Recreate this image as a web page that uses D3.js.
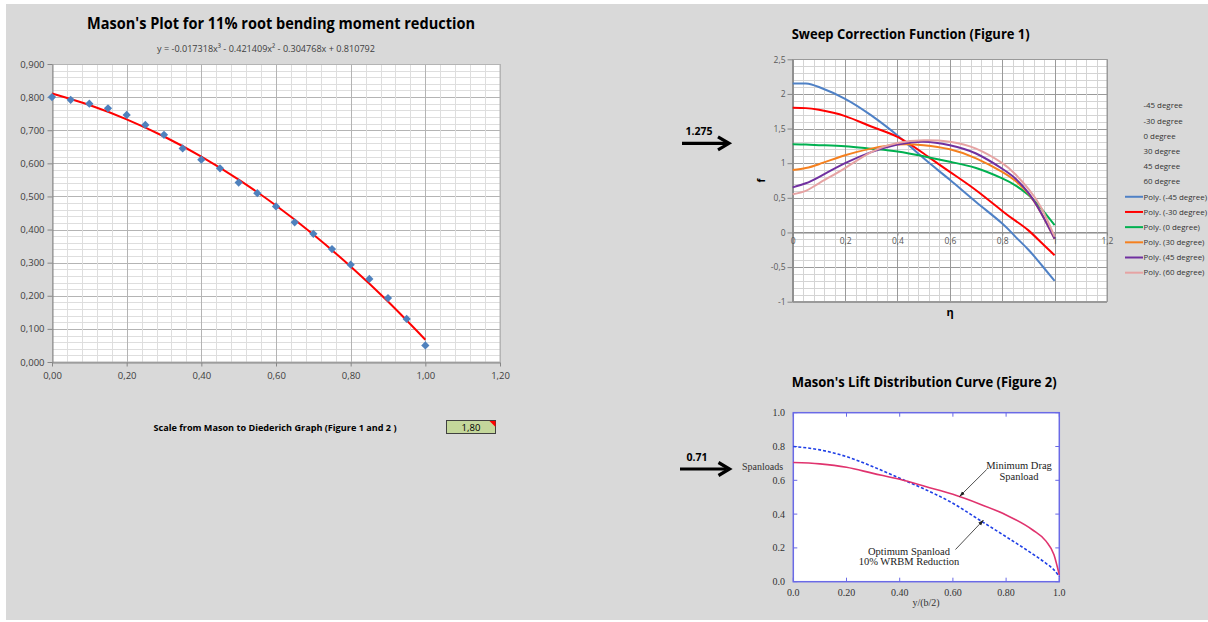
<!DOCTYPE html>
<html>
<head>
<meta charset="utf-8">
<script src="https://cdn.jsdelivr.net/npm/d3@7"></script>
<style>
  body { margin: 0; background: #ffffff; }
  svg { display: block; font-family: 'Open Sans', sans-serif; }
</style>
</head>
<body>
<svg id="chart" width="1208" height="622"></svg>
<script>
// ---- Mason's plot (left) ----
const masonX = [0, 0.05, 0.1, 0.15, 0.2, 0.25, 0.3, 0.35, 0.4, 0.45, 0.5, 0.55, 0.6, 0.65, 0.7, 0.75, 0.8, 0.85, 0.9, 0.95, 1.0]
const masonY = [0.800, 0.792, 0.780, 0.766, 0.746, 0.716, 0.686, 0.645, 0.611, 0.585, 0.542, 0.510, 0.470, 0.422, 0.387, 0.341, 0.294, 0.251, 0.193, 0.130, 0.050]
// trendline values
const trendX = [0, 0.1, 0.2, 0.3, 0.4, 0.5, 0.6, 0.7, 0.8, 0.9, 1.0]
const trendY = [0.8108, 0.7761, 0.7328, 0.6810, 0.6204, 0.5509, 0.4725, 0.3850, 0.2884, 0.1825, 0.0673]
const masonXTicks = [0, 0.2, 0.4, 0.6, 0.8, 1.0, 1.2]
const masonYTicks = [0, 0.1, 0.2, 0.3, 0.4, 0.5, 0.6, 0.7, 0.8, 0.9]

// ---- Sweep correction function (figure 1) ----
const sweepEta = [0, 0.05, 0.1, 0.2, 0.3, 0.4, 0.5, 0.6, 0.7, 0.8, 0.85, 0.9, 0.95, 1.0]
const sweepNames = ['-45 degree', '-30 degree', '0 degree', '30 degree', '45 degree', '60 degree']
const sweepM45 = [2.15, 2.15, 2.10, 1.93, 1.69, 1.40, 1.07, 0.76, 0.44, 0.13, -0.06, -0.25, -0.47, -0.70]
const sweepM30 = [1.80, 1.795, 1.77, 1.68, 1.53, 1.38, 1.14, 0.875, 0.61, 0.31, 0.17, 0.03, -0.15, -0.33]
const sweep0 = [1.275, 1.27, 1.26, 1.245, 1.21, 1.17, 1.10, 1.02, 0.93, 0.78, 0.68, 0.54, 0.34, 0.105]
const sweep30 = [0.90, 0.93, 0.985, 1.115, 1.21, 1.27, 1.26, 1.20, 1.07, 0.875, 0.745, 0.56, 0.27, -0.09]
const sweep45 = [0.65, 0.71, 0.80, 1.00, 1.16, 1.27, 1.31, 1.26, 1.14, 0.92, 0.78, 0.57, 0.27, -0.09]
const sweep60 = [0.55, 0.60, 0.71, 0.93, 1.16, 1.29, 1.33, 1.31, 1.21, 1.00, 0.84, 0.63, 0.35, -0.06]
const sweepColors = ['#4f81c6', '#ff0000', '#00b050', '#f5801f', '#7030a0', '#e6a3a3']
const sweepXTicks = [0, 0.2, 0.4, 0.6, 0.8, 1, 1.2]
const sweepYTicks = [-1, -0.5, 0, 0.5, 1, 1.5, 2, 2.5]

// ---- Mason's lift distribution (figure 2) ----
const spanX = [0, 0.1, 0.2, 0.3, 0.4, 0.5, 0.6, 0.7, 0.8, 0.9, 0.95, 0.98, 1.0]
const minDragLoad = [0.705, 0.697, 0.677, 0.641, 0.606, 0.562, 0.517, 0.460, 0.395, 0.306, 0.240, 0.160, 0.040]
const optimumLoad = [0.800, 0.780, 0.740, 0.680, 0.612, 0.543, 0.464, 0.365, 0.266, 0.164, 0.109, 0.070, 0.030]
const spanXTicks = ['0.0', '0.20', '0.40', '0.60', '0.80', '1.0']
const spanYTicks = ['0.0', '0.2', '0.4', '0.6', '0.8', '1.0']

const scaleValue = '1,80'

const svg = d3.select('#chart')
const comma = f => d => d3.format(f)(d).replace('.', ',')

svg.append('rect').attr('width', 1208).attr('height', 622).attr('fill', '#ffffff')
svg.append('rect').attr('x', 6).attr('y', 4).attr('width', 1202).attr('height', 616).attr('fill', '#d9d9d9')

function gridLines(g, x, y, xStep, yStep, xMajor, yMajor, minorCol, majorCol) {
  const [x0, x1] = x.domain()
  const [y0, y1] = y.domain()
  const xs = d3.range(0, Math.round((x1 - x0) / xStep) + 1).map(i => x0 + i * xStep)
  const ys = d3.range(0, Math.round((y1 - y0) / yStep) + 1).map(i => y0 + i * yStep)
  const isMajor = (v, m) => Math.abs(v / m - Math.round(v / m)) < 1e-6
  g.selectAll('.hgrid')
    .data(ys)
    .enter()
    .append('line')
    .attr('x1', x.range()[0])
    .attr('x2', x.range()[1])
    .attr('y1', d => Math.round(y(d)) + 0.5)
    .attr('y2', d => Math.round(y(d)) + 0.5)
    .attr('stroke', d => (isMajor(d, yMajor) ? majorCol : minorCol))
    .attr('stroke-width', 1)
  g.selectAll('.vgrid')
    .data(xs)
    .enter()
    .append('line')
    .attr('y1', y.range()[0])
    .attr('y2', y.range()[1])
    .attr('x1', d => Math.round(x(d)) + 0.5)
    .attr('x2', d => Math.round(x(d)) + 0.5)
    .attr('stroke', d => (isMajor(d, xMajor) ? majorCol : minorCol))
    .attr('stroke-width', 1)
}

function bigArrow(x0, x1, yy, label) {
  const g = svg.append('g')
  g.append('line')
    .attr('x1', x0).attr('x2', x1 - 3).attr('y1', yy).attr('y2', yy)
    .attr('stroke', '#000').attr('stroke-width', 3.2)
  g.append('path')
    .attr('d', `M ${x1 - 11} ${yy - 6.5} L ${x1} ${yy} L ${x1 - 11} ${yy + 6.5}`)
    .attr('fill', 'none').attr('stroke', '#000').attr('stroke-width', 3.2)
    .attr('stroke-linejoin', 'miter')
  g.append('text')
    .attr('x', x0 + 17).attr('y', yy - 8)
    .attr('text-anchor', 'middle')
    .attr('font-size', 10.5).attr('font-weight', 'bold')
    .text(label)
}

// ================= left chart =================
function plot_mason() {
  const x = d3.scaleLinear().domain([0, 1.2]).range([52, 500])
  const y = d3.scaleLinear().domain([0, 0.9]).range([362, 64])
  const g = svg.append('g')

  g.append('rect')
    .attr('x', 52).attr('y', 64).attr('width', 448).attr('height', 298)
    .attr('fill', '#ffffff')
  gridLines(g, x, y, 0.04, 0.02, 0.2, 0.1, '#dedede', '#b4b4b4')
  g.append('rect')
    .attr('x', 52.5).attr('y', 64.5).attr('width', 447.5).attr('height', 297.5)
    .attr('fill', 'none').attr('stroke', '#b4b4b4')

  const ax = g.append('g')
    .attr('transform', 'translate(0,362.5)')
    .call(d3.axisBottom(x).tickValues(masonXTicks).tickFormat(comma('.2f')).tickSize(4).tickSizeOuter(0))
  const ay = g.append('g')
    .attr('transform', 'translate(52.5,0)')
    .call(d3.axisLeft(y).tickValues(masonYTicks).tickFormat(comma('.3f')).tickSize(5).tickSizeOuter(0))
  ;[ax, ay].forEach(a => {
    a.select('.domain').attr('stroke', '#868686')
    a.selectAll('line').attr('stroke', '#868686')
    a.selectAll('text').attr('font-size', 9.5).attr('fill', '#404040').attr('font-family', 'Open Sans')
  })
  ax.selectAll('text').attr('dy', '0.95em')
  ay.selectAll('text').attr('x', -8)

  const line = d3.line()
    .x(d => x(d[0]))
    .y(d => y(d[1]))
    .curve(d3.curveNatural)
  g.append('path')
    .datum(d3.zip(trendX, trendY))
    .attr('d', line)
    .attr('fill', 'none')
    .attr('stroke', '#ff0000')
    .attr('stroke-width', 2)

  g.selectAll('.pt')
    .data(d3.zip(masonX, masonY))
    .enter()
    .append('path')
    .attr('d', d3.symbol(d3.symbolSquare, 34))
    .attr('transform', d => `translate(${x(d[0])},${y(d[1])}) rotate(45)`)
    .attr('fill', '#4f81bd')

  svg.append('text')
    .attr('x', 281).attr('y', 28.5)
    .attr('text-anchor', 'middle')
    .attr('font-size', 16.5).attr('font-weight', 'bold')
    .attr('textLength', 388).attr('lengthAdjust', 'spacingAndGlyphs')
    .attr('fill', '#000')
    .text("Mason's Plot for 11% root bending moment reduction")
  svg.append('text')
    .attr('x', 266).attr('y', 52)
    .attr('text-anchor', 'middle')
    .attr('font-size', 9.5)
    .attr('textLength', 218).attr('lengthAdjust', 'spacingAndGlyphs')
    .attr('fill', '#404040')
    .text('y = -0.017318x\u00b3 - 0.421409x\u00b2 - 0.304768x + 0.810792')

  // scale cell
  svg.append('text')
    .attr('x', 153.5).attr('y', 430.5)
    .attr('font-size', 9).attr('font-weight', 'bold')
    .attr('textLength', 243).attr('lengthAdjust', 'spacingAndGlyphs')
    .text('Scale from Mason to Diederich Graph (Figure 1 and 2 )')
  svg.append('rect')
    .attr('x', 446.5).attr('y', 420.5).attr('width', 49).attr('height', 13)
    .attr('fill', '#c4d79b').attr('stroke', '#404040')
  svg.append('path')
    .attr('d', 'M 489.5 421 L 495.5 421 L 495.5 427 Z')
    .attr('fill', '#ff0000')
  svg.append('text')
    .attr('x', 471).attr('y', 431)
    .attr('text-anchor', 'middle')
    .attr('font-size', 9.5)
    .text(scaleValue)
}

// ================= sweep correction chart =================
function plot_sweep() {
  const x = d3.scaleLinear().domain([0, 1.2]).range([792.7, 1107])
  const y = d3.scaleLinear().domain([-1, 2.5]).range([301.7, 59.3])
  const g = svg.append('g')

  g.append('rect')
    .attr('x', 792.7).attr('y', 59.3).attr('width', 314.3).attr('height', 242.4)
    .attr('fill', '#ffffff')
  gridLines(g, x, y, 0.04, 0.1, 0.2, 0.5, '#d4d4d4', '#9a9a9a')
  g.append('rect')
    .attr('x', 792.5).attr('y', 59.5).attr('width', 314.5).attr('height', 242)
    .attr('fill', 'none').attr('stroke', '#9a9a9a')

  const ay = g.append('g')
    .attr('transform', 'translate(792.5,0)')
    .call(d3.axisLeft(y).tickValues(sweepYTicks).tickFormat(d => String(d).replace('.', ',')).tickSize(5).tickSizeOuter(0))
  const ax = g.append('g')
    .attr('transform', `translate(0,${Math.round(y(0)) + 0.5})`)
    .call(d3.axisBottom(x).tickValues(sweepXTicks).tickFormat(d => String(d).replace('.', ',')).tickSize(3).tickSizeOuter(0))
  ;[ax, ay].forEach(a => {
    a.select('.domain').attr('stroke', '#868686')
    a.selectAll('line').attr('stroke', '#868686')
    a.selectAll('text').attr('font-size', 8.5).attr('fill', '#595959').attr('font-family', 'Open Sans')
  })
  ay.selectAll('text').attr('x', -7)
  ax.selectAll('text').attr('dy', '0.7em')

  const series = [sweepM45, sweepM30, sweep0, sweep30, sweep45, sweep60]
  const line = d3.line()
    .x(d => x(d[0]))
    .y(d => y(d[1]))
    .curve(d3.curveNatural)
  series.forEach((s, i) => {
    g.append('path')
      .datum(d3.zip(sweepEta, s))
      .attr('d', line)
      .attr('fill', 'none')
      .attr('stroke', sweepColors[i])
      .attr('stroke-width', 2)
  })

  // legend
  const legendItems = sweepNames.map(n => ({ text: n, color: null }))
    .concat(sweepNames.map((n, i) => ({ text: `Poly. (${n})`, color: sweepColors[i] })))
  const leg = svg.append('g')
  legendItems.forEach((d, i) => {
    const yy = 105.7 + i * 15.18
    if (d.color) {
      leg.append('line')
        .attr('x1', 1125).attr('x2', 1143).attr('y1', yy).attr('y2', yy)
        .attr('stroke', d.color).attr('stroke-width', 2)
    }
    leg.append('text')
      .attr('x', 1143.5).attr('y', yy)
      .attr('dy', '0.35em')
      .attr('font-size', 7.9)
      .attr('fill', '#333')
      .text(d.text)
  })

  svg.append('text')
    .attr('x', 791.7).attr('y', 39)
    .attr('font-size', 14.5).attr('font-weight', 'bold')
    .attr('textLength', 238).attr('lengthAdjust', 'spacingAndGlyphs')
    .text('Sweep Correction Function (Figure 1)')
  svg.append('text')
    .attr('transform', 'translate(765,180.5) rotate(-90)')
    .attr('text-anchor', 'middle')
    .attr('font-size', 10).attr('font-weight', 'bold')
    .text('f')
  svg.append('text')
    .attr('x', 950).attr('y', 316)
    .attr('text-anchor', 'middle')
    .attr('font-size', 11).attr('font-weight', 'bold')
    .text('\u03b7')

  bigArrow(682, 729, 143.3, '1.275')
}

// ================= lift distribution chart =================
function plot_lift() {
  const x = d3.scaleLinear().domain([0, 1]).range([793.3, 1059.3])
  const y = d3.scaleLinear().domain([0, 1]).range([581.7, 412.7])
  const g = svg.append('g').attr('font-family', 'Liberation Serif, serif')
  const blue = '#6a6ae6'

  g.append('rect')
    .attr('x', 793.3).attr('y', 412.7).attr('width', 266).attr('height', 169)
    .attr('fill', '#ffffff').attr('stroke', blue).attr('stroke-width', 1.5)

  const tv = spanYTicks.map(Number)
  tv.forEach(v => {
    g.append('line').attr('x1', x(0)).attr('x2', x(0) + 4).attr('y1', y(v)).attr('y2', y(v)).attr('stroke', blue)
    g.append('line').attr('x1', x(1)).attr('x2', x(1) - 4).attr('y1', y(v)).attr('y2', y(v)).attr('stroke', blue)
    g.append('line').attr('x1', x(v)).attr('x2', x(v)).attr('y1', y(0)).attr('y2', y(0) - 4).attr('stroke', blue)
    g.append('line').attr('x1', x(v)).attr('x2', x(v)).attr('y1', y(1)).attr('y2', y(1) + 4).attr('stroke', blue)
  })
  g.selectAll('.ylab')
    .data(spanYTicks)
    .enter()
    .append('text')
    .attr('x', 785).attr('y', d => y(+d))
    .attr('dy', '0.35em')
    .attr('text-anchor', 'end')
    .attr('font-size', 10)
    .attr('fill', '#333')
    .text(d => d)
  g.selectAll('.xlab')
    .data(spanXTicks)
    .enter()
    .append('text')
    .attr('x', d => x(+d)).attr('y', 596)
    .attr('text-anchor', 'middle')
    .attr('font-size', 10)
    .attr('fill', '#333')
    .text(d => d)
  g.append('text')
    .attr('x', 926).attr('y', 606)
    .attr('text-anchor', 'middle').attr('font-size', 10).attr('fill', '#333')
    .text('y/(b/2)')
  g.append('text')
    .attr('x', 762.5).attr('y', 470)
    .attr('text-anchor', 'middle').attr('font-size', 10).attr('fill', '#333')
    .text('Spanloads')

  const line = d3.line()
    .x(d => x(d[0]))
    .y(d => y(d[1]))
    .curve(d3.curveMonotoneX)
  g.append('path')
    .datum(d3.zip(spanX, optimumLoad))
    .attr('d', line)
    .attr('fill', 'none').attr('stroke', '#1f3fe6').attr('stroke-width', 1.6)
    .attr('stroke-dasharray', '3,2')
  g.append('path')
    .datum(d3.zip(spanX, minDragLoad))
    .attr('d', line)
    .attr('fill', 'none').attr('stroke', '#e0336e').attr('stroke-width', 1.6)

  const defs = svg.append('defs')
  defs.append('marker')
    .attr('id', 'ah').attr('viewBox', '0 0 10 10')
    .attr('refX', 10).attr('refY', 5)
    .attr('markerWidth', 7).attr('markerHeight', 7)
    .attr('orient', 'auto-start-reverse')
    .append('path').attr('d', 'M 0 1.5 L 10 5 L 0 8.5 Z').attr('fill', '#222')

  g.append('line')
    .attr('x1', 986.7).attr('y1', 469.5).attr('x2', 959.5).attr('y2', 496.5)
    .attr('stroke', '#222').attr('stroke-width', 0.8).attr('marker-end', 'url(#ah)')
  g.append('line')
    .attr('x1', 955.5).attr('y1', 549.5).attr('x2', 983.5).attr('y2', 520)
    .attr('stroke', '#222').attr('stroke-width', 0.8).attr('marker-end', 'url(#ah)')

  const note = (xx, yy, lines) => {
    lines.forEach((t, i) => {
      g.append('text')
        .attr('x', xx).attr('y', yy + i * 10.5)
        .attr('text-anchor', 'middle').attr('font-size', 10.5).attr('fill', '#222')
        .text(t)
    })
  }
  note(1019, 469, ['Minimum Drag', 'Spanload'])
  note(909, 554.5, ['Optimum Spanload', '10% WRBM Reduction'])

  svg.append('text')
    .attr('x', 791.7).attr('y', 386.5)
    .attr('font-size', 14.5).attr('font-weight', 'bold')
    .attr('textLength', 265).attr('lengthAdjust', 'spacingAndGlyphs')
    .text("Mason's Lift Distribution Curve (Figure 2)")

  bigArrow(680, 729.5, 469, '0.71')
}

plot_mason()
plot_sweep()
plot_lift()
</script>
</body>
</html>
